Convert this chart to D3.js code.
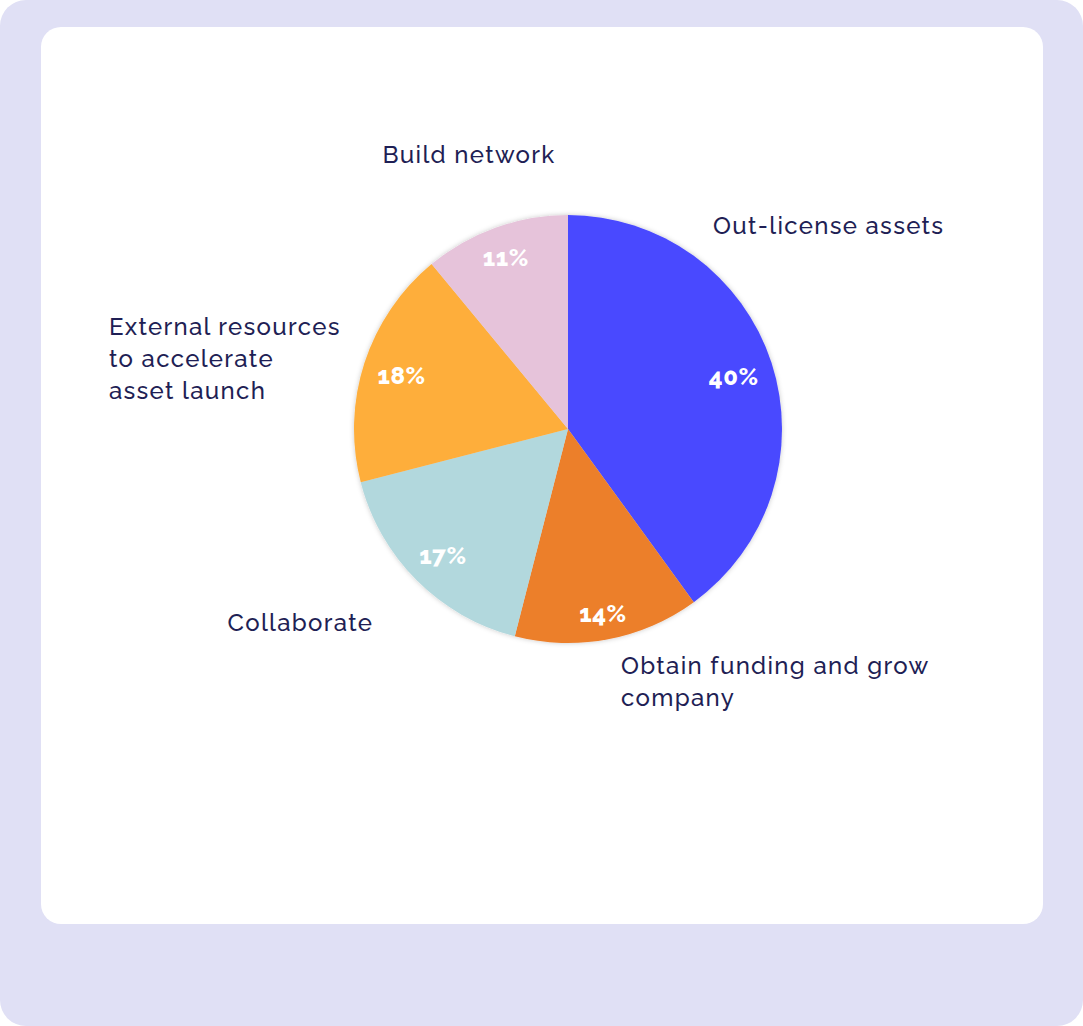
<!DOCTYPE html>
<html>
<head>
<meta charset="utf-8">
<script src="https://cdn.jsdelivr.net/npm/d3@7"></script>
<style>
  html, body { margin: 0; padding: 0; background: #ffffff; }
  svg { display: block; }
  .name { font-family: Raleway, Lato, "Open Sans", sans-serif; font-size: 24px; font-weight: 500; letter-spacing: 1.3px; fill: #1f1f55; }
  .pct { font-family: Raleway, Lato, "Open Sans", sans-serif; font-size: 24px; font-weight: 800; letter-spacing: 0.5px; fill: #ffffff; }
</style>
</head>
<body>
<script>
// Share of respondents by primary goal
const categories = [
  "Out-license assets",
  "Obtain funding and grow company",
  "Collaborate",
  "External resources to accelerate asset launch",
  "Build network"
];
const shares = [40, 14, 17, 18, 11];
const sliceColors = ["#4949ff", "#ec7f2c", "#b2d8dd", "#feae3b", "#e6c3da"];

// Category names broken over lines for the outside labels
const nameLines = [
  ["Out-license assets"],
  ["Obtain funding and grow", "company"],
  ["Collaborate"],
  ["External resources", "to accelerate", "asset launch"],
  ["Build network"]
];
// Outside label anchors (left edge, first baseline), in pie-radius units from the centre
const nameAnchors = [
  [0.678, -0.911],
  [0.248, 1.145],
  [-1.591, 0.944],
  [-2.145, -0.439],
  [-0.867, -1.242]
];

const W = 1083, H = 1026;
const svg = d3.select("body").append("svg").attr("width", W).attr("height", H);

// Framed card
svg.append("rect").attr("x", 0).attr("y", 0).attr("width", W).attr("height", H)
  .attr("rx", 26).attr("fill", "#e0e0f5");
svg.append("rect").attr("x", 41).attr("y", 27).attr("width", 1002).attr("height", 897)
  .attr("rx", 20).attr("fill", "#ffffff");

const defs = svg.append("defs");
const shadow = defs.append("filter").attr("id", "pieShadow")
  .attr("x", "-10%").attr("y", "-10%").attr("width", "120%").attr("height", "120%");
shadow.append("feDropShadow").attr("dx", 0).attr("dy", 0).attr("stdDeviation", 2.5)
  .attr("flood-color", "#000").attr("flood-opacity", 0.22);

const cx = 568, cy = 429, R = 214;
const g = svg.append("g").attr("transform", `translate(${cx},${cy})`);

const pie = d3.pie().sort(null).value(d => d);
const arcs = pie(shares);
const arc = d3.arc().innerRadius(0).outerRadius(R);
const color = d3.scaleOrdinal().domain(d3.range(shares.length)).range(sliceColors);

g.append("g").attr("filter", "url(#pieShadow)")
  .selectAll("path").data(arcs).join("path")
  .attr("d", arc)
  .attr("fill", (d, i) => color(i));

// Percentage labels inside each slice, pulled in so the glyph box sits a fixed gap from the rim
const pctText = g.selectAll("text.pct").data(arcs).join("text")
  .attr("class", "pct")
  .attr("text-anchor", "middle")
  .attr("dominant-baseline", "central")
  .text(d => d.data + "%");

pctText.each(function(d) {
  const bb = this.getBBox();
  const a = (d.startAngle + d.endAngle) / 2;
  const s = Math.sin(a), c = Math.cos(a);
  const extent = (bb.width / 2) * Math.abs(s) + (bb.height * 0.35) * Math.abs(c);
  const r = R - 13 - extent;
  d3.select(this).attr("x", r * s).attr("y", -r * c + 1);
});

// Category labels outside the pie
const names = g.selectAll("text.name").data(arcs).join("text")
  .attr("class", "name")
  .attr("x", (d, i) => nameAnchors[i][0] * R)
  .attr("y", (d, i) => nameAnchors[i][1] * R);
names.each(function(d, i) {
  const t = d3.select(this);
  const x0 = nameAnchors[i][0] * R;
  nameLines[i].forEach((line, k) => {
    t.append("tspan").attr("x", x0).attr("dy", k === 0 ? 0 : 32).text(line);
  });
});
</script>
</body>
</html>
